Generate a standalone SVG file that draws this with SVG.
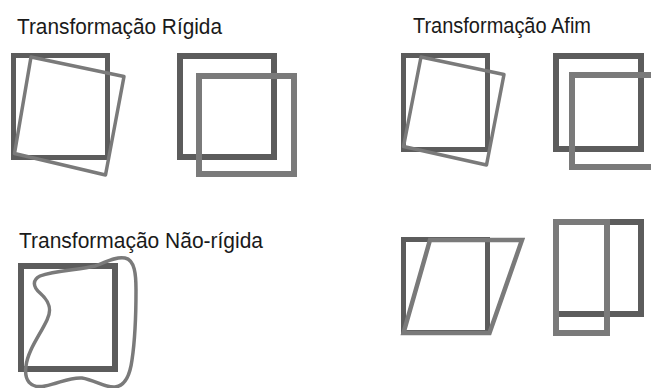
<svg xmlns="http://www.w3.org/2000/svg" width="651" height="388" viewBox="0 0 651 388">
<style>
.lbl{font-family:"Liberation Sans",Arial,sans-serif;font-size:22px;fill:#1a1a1a}
.dk{fill:none;stroke:#5c5c5c;stroke-width:6}
.lt{fill:none;stroke:#7a7a7a;stroke-width:6}
.thin{fill:none;stroke:#7a7a7a;stroke-width:3.5;stroke-linejoin:round}
</style>
<rect width="651" height="388" fill="#ffffff"/>
<g id="labels">
<text class="lbl" x="17" y="34" textLength="205" lengthAdjust="spacingAndGlyphs">Transformação Rígida</text>
<text class="lbl" x="413" y="33" textLength="178" lengthAdjust="spacingAndGlyphs">Transformação Afim</text>
<text class="lbl" x="19" y="248" textLength="244" lengthAdjust="spacingAndGlyphs">Transformação Não-rígida</text>
</g>
<g id="rigid-rotation">
<rect class="dk" x="13.5" y="55.5" width="94" height="102" style="stroke-width:5"/>
<polygon class="thin" points="31,57 124,76.5 105.5,175 14.5,153.5"/>
</g>
<g id="rigid-translation">
<rect class="dk" x="180" y="56" width="94" height="101"/>
<rect class="lt" x="199" y="76" width="95" height="98"/>
</g>
<g id="affine-rotation">
<rect class="dk" x="403.5" y="55.5" width="84" height="94" style="stroke-width:5"/>
<polygon class="thin" points="421,57 504,74.5 486.5,165 403.5,146.5"/>
</g>
<g id="affine-translation">
<rect class="dk" x="556" y="56" width="85" height="93"/>
<rect class="lt" x="572" y="75" width="90" height="92"/>
</g>
<g id="nonrigid">
<rect class="dk" x="21" y="266" width="94" height="103"/>
<path class="thin" d="M40,276 C55,270 80,270 95,266 C105,263 115,256 125,258 C135,260 136,275 136,290 C136,310 135,340 132,360 C130,375 125,386 115,387 C105,388 95,380 82,378 C70,377 60,383 45,386 C30,389 24,380 26,366 C28,350 40,335 47,320 C53,308 48,300 40,293 C33,287 32,280 40,276 Z"/>
</g>
<g id="affine-shear">
<rect class="dk" x="403.5" y="239.5" width="84" height="93" style="stroke-width:5"/>
<polygon class="thin" points="430,240 522,240 489.5,333 403.5,333" style="stroke-width:4.5;stroke-linejoin:miter"/>
</g>
<g id="affine-scale">
<rect class="dk" x="556" y="222" width="85" height="92"/>
<rect class="lt" x="556" y="222" width="51" height="111"/>
</g>
</svg>
